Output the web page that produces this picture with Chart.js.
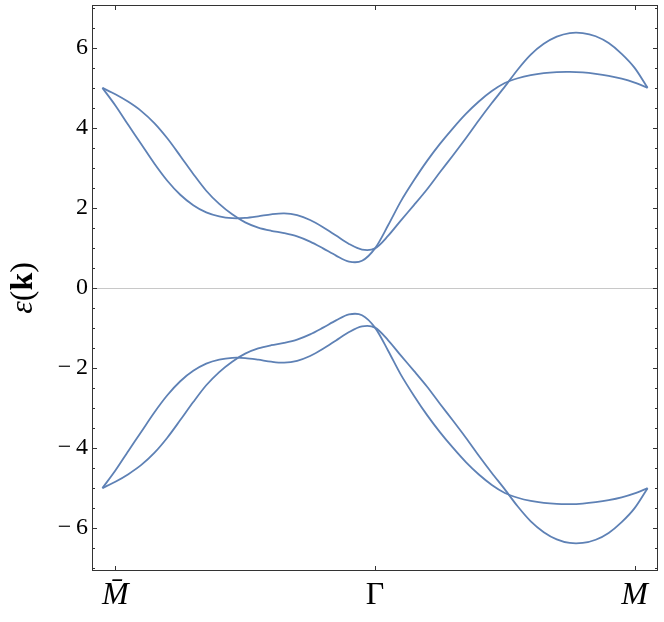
<!DOCTYPE html>
<html>
<head>
<meta charset="utf-8">
<script src="https://cdn.jsdelivr.net/npm/chart.js@4.4.0/dist/chart.umd.min.js"></script>
<style>
    html, body { margin: 0; padding: 0; background: #fff; }
</style>
</head>
<body>
<canvas id="bandChart" width="664" height="622"></canvas>
<script>
// path coordinate: Mbar = -1, Gamma = 0, M = 1
const kPath = [-1.05, -1.00, -0.95, -0.90, -0.85, -0.80, -0.75, -0.70, -0.65, -0.60, -0.55,
    -0.50, -0.45, -0.40, -0.35, -0.30, -0.25, -0.20, -0.15, -0.10, -0.05, 0.00,
    0.05, 0.10, 0.15, 0.20, 0.25, 0.30, 0.35, 0.40, 0.45, 0.50, 0.55,
    0.60, 0.65, 0.70, 0.75, 0.80, 0.85, 0.90, 0.95, 1.00, 1.05];

const upperBandA = [5.00, 4.84, 4.65, 4.42, 4.12, 3.74, 3.30, 2.85, 2.43, 2.10, 1.84,
    1.64, 1.51, 1.43, 1.37, 1.29, 1.16, 0.99, 0.81, 0.66, 0.68, 0.99,
    1.56, 2.17, 2.69, 3.17, 3.60, 3.99, 4.35, 4.66, 4.92, 5.12, 5.24,
    5.32, 5.37, 5.395, 5.40, 5.385, 5.35, 5.30, 5.23, 5.13, 5.00];

const upperBandB = [5.00, 4.56, 4.07, 3.59, 3.11, 2.68, 2.33, 2.07, 1.89, 1.79, 1.745,
    1.75, 1.79, 1.84, 1.865, 1.82, 1.70, 1.52, 1.31, 1.10, 0.96, 0.99,
    1.30, 1.69, 2.07, 2.46, 2.89, 3.31, 3.74, 4.19, 4.62, 5.03, 5.46,
    5.83, 6.10, 6.28, 6.37, 6.37, 6.29, 6.12, 5.85, 5.50, 5.00];

const lowerBandA = [-5.00, -4.84, -4.65, -4.42, -4.12, -3.74, -3.30, -2.85, -2.43, -2.10, -1.84,
    -1.64, -1.51, -1.43, -1.37, -1.29, -1.16, -0.99, -0.81, -0.66, -0.68, -0.99,
    -1.56, -2.17, -2.69, -3.17, -3.60, -3.99, -4.35, -4.66, -4.92, -5.12, -5.24,
    -5.32, -5.37, -5.395, -5.40, -5.385, -5.35, -5.30, -5.23, -5.13, -5.00];

const lowerBandB = [-5.00, -4.56, -4.07, -3.59, -3.11, -2.68, -2.33, -2.07, -1.89, -1.79, -1.745,
    -1.75, -1.79, -1.84, -1.865, -1.82, -1.70, -1.52, -1.31, -1.10, -0.96, -0.99,
    -1.30, -1.69, -2.07, -2.46, -2.89, -3.31, -3.74, -4.19, -4.62, -5.03, -5.46,
    -5.83, -6.10, -6.28, -6.37, -6.37, -6.29, -6.12, -5.85, -5.50, -5.00];

const xTicks = [-1, 0, 1];
const xTickLabels = ['M\u0304', '\u0393', 'M'];
const yTicks = [-6, -4, -2, 0, 2, 4, 6];

const serif = '"Liberation Serif", "DejaVu Serif", serif';
const lineColor = '#5e81b5';

function band(values) {
    return {
        data: kPath.map(function (k, i) { return {x: k, y: values[i]}; }),
        borderColor: lineColor,
        borderWidth: 1.8,
        pointRadius: 0,
        tension: 0.3,
        fill: false,
    };
}

// frame, inward ticks and the y title
const axisDecor = {
    id: 'axisDecor',
    afterDatasetsDraw: function (chart) {
        const ctx = chart.ctx;
        const a = chart.chartArea;
        const xs = chart.scales.x, ys = chart.scales.y;
        ctx.save();
        ctx.strokeStyle = '#333';
        ctx.lineWidth = 1;
        ctx.strokeRect(a.left + 0.5, a.top + 0.5, a.right - a.left - 1, a.bottom - a.top - 1);

        ctx.beginPath();
        for (let v = -7; v <= 7; v += 0.5) {
            const py = Math.round(ys.getPixelForValue(v)) + 0.5;
            if (py < a.top || py > a.bottom) continue;
            const len = yTicks.indexOf(v) >= 0 ? 5 : 3;
            ctx.moveTo(a.left, py); ctx.lineTo(a.left + len, py);
            ctx.moveTo(a.right, py); ctx.lineTo(a.right - len, py);
        }
        xTicks.forEach(function (v) {
            const px = Math.round(xs.getPixelForValue(v)) + 0.5;
            ctx.moveTo(px, a.bottom); ctx.lineTo(px, a.bottom - 5);
            ctx.moveTo(px, a.top); ctx.lineTo(px, a.top + 5);
        });
        ctx.stroke();

        const parts = [
            {t: '\u03b5', f: 'italic 32px ' + serif},
            {t: '(', f: '32px ' + serif},
            {t: 'k', f: 'bold 32px ' + serif},
            {t: ')', f: '32px ' + serif},
        ];
        let total = 0;
        parts.forEach(function (p) { ctx.font = p.f; p.w = ctx.measureText(p.t).width; total += p.w; });
        ctx.translate(32, (a.top + a.bottom) / 2);
        ctx.rotate(-Math.PI / 2);
        ctx.fillStyle = '#000';
        ctx.textBaseline = 'alphabetic';
        let cx = -total / 2;
        parts.forEach(function (p) { ctx.font = p.f; ctx.fillText(p.t, cx, 0); cx += p.w; });
        ctx.restore();
    }
};

const config = {
    type: 'line',
    data: {
        datasets: [band(upperBandA), band(upperBandB), band(lowerBandA), band(lowerBandB)]
    },
    plugins: [axisDecor],
    options: {
        responsive: false,
        animation: false,
        devicePixelRatio: 1,
        layout: {padding: {top: 5, right: 6, left: 0, bottom: 0}},
        plugins: {
            legend: {display: false},
            tooltip: {enabled: false},
        },
        scales: {
            x: {
                type: 'linear',
                min: -1.09,
                max: 1.09,
                afterBuildTicks: function (s) { s.ticks = xTicks.map(function (v) { return {value: v}; }); },
                afterFit: function (s) { s.height = 51; },
                grid: {display: false},
                border: {display: false},
                ticks: {
                    autoSkip: false,
                    maxRotation: 0,
                    padding: -3,
                    color: '#000',
                    callback: function (v) { return xTickLabels[xTicks.indexOf(v)]; },
                    font: function (c) {
                        return {family: serif, size: 32, style: c.index === 1 ? 'normal' : 'italic'};
                    },
                },
            },
            y: {
                type: 'linear',
                min: -7.07,
                max: 7.07,
                afterBuildTicks: function (s) { s.ticks = yTicks.map(function (v) { return {value: v}; }); },
                afterFit: function (s) {
                    s.width = 92;
                    s.paddingTop = 0;
                    s.paddingBottom = 0;
                },
                grid: {
                    drawTicks: false,
                    lineWidth: 1,
                    color: function (c) { return c.tick && c.tick.value === 0 ? '#c8c8c8' : 'rgba(0,0,0,0)'; },
                },
                border: {display: false},
                ticks: {
                    padding: 4,
                    color: '#000',
                    font: {family: serif, size: 24},
                    callback: function (v) { return v < 0 ? '\u2212\u2009' + Math.abs(v) : String(v); },
                },
            },
        },
    },
};

new Chart(document.getElementById('bandChart'), config);
</script>
</body>
</html>
